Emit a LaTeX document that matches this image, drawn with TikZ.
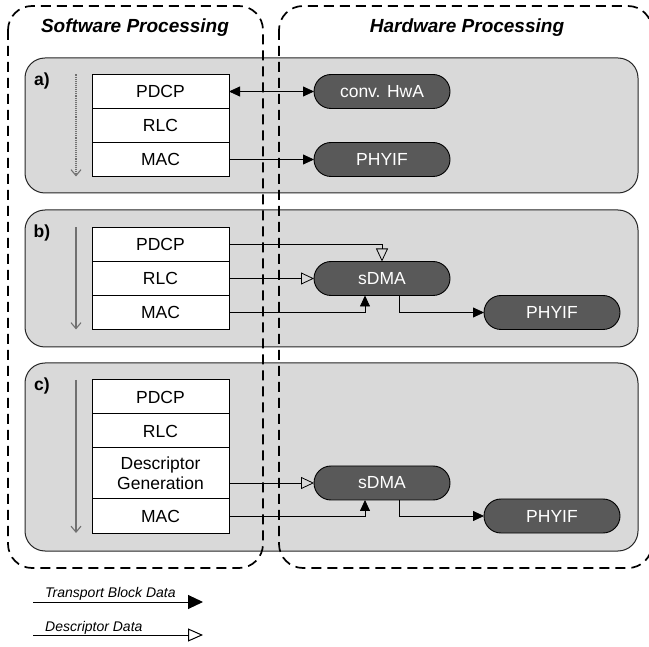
\documentclass[tikz,border=0pt]{standalone}
\usepackage{fontspec}
\setmainfont{Liberation Sans}
\usetikzlibrary{arrows.meta,positioning,shapes.misc}
\definecolor{panelgray}{HTML}{D9D9D9}
\definecolor{unitgray}{HTML}{595959}
\definecolor{flowgray}{HTML}{707070}
\tikzset{
 side frame/.style={draw,line width=1.7pt,dash pattern=on 10pt off 6pt,rounded corners=24pt},
 panel/.style={draw=black!85,fill=panelgray,line width=1pt,rounded corners=20pt},
 layer box/.style={draw,fill=white,line width=1pt,minimum width=137pt,minimum height=34pt,
                   inner sep=0pt,outer sep=0pt,align=center,font=\fontsize{17.5}{20}\selectfont},
 hw unit/.style={rounded rectangle,draw,fill=unitgray,text=white,line width=.9pt,
                 minimum width=136pt,minimum height=34pt,inner sep=0pt,outer sep=0pt,
                 font=\fontsize{17.5}{20}\selectfont},
 panel label/.style={font=\fontsize{17.5}{20}\selectfont\bfseries},
 frame title/.style={anchor=base,font=\fontsize{19}{22}\selectfont\bfseries\itshape},
 tb flow/.style={line width=.8pt,-{Triangle[length=11pt,width=10pt]}},
 tb both/.style={line width=.8pt,{Triangle[length=11pt,width=10pt]}-{Triangle[length=11pt,width=10pt]}},
 desc flow/.style={line width=.8pt,-{Triangle[open,length=13pt,width=12pt]}},
 stack dir/.style={flowgray,line width=1.1pt,-{Straight Barb[length=6pt,width=10pt]}},
 legend text/.style={anchor=base west,inner sep=0pt,font=\fontsize{14}{16}\selectfont\itshape},
}
\begin{document}
\begin{tikzpicture}[x=1pt,y=-1pt]
 \useasboundingbox (0,0) rectangle (649,647);
 % grey panels
 \draw[panel] (25,58) rectangle (638,193);
 \draw[panel] (25,210) rectangle (638,347);
 \draw[panel] (25,363) rectangle (638,551);
 % software / hardware frames
 \draw[side frame] (8,6) rectangle (263,568);
 \draw[side frame] (279,6) rectangle (652,568);
 \node[frame title] (swTitle) at (135,33) {Software Processing};
 \node[frame title] (hwTitle) at (467,33) {Hardware Processing};

 % a) conventional accelerator
 \node[panel label] (labA) at (42,81) {a)};
 \node[layer box] (pdcpA) at (160.5,91.5) {PDCP};
 \node[layer box,below=0pt of pdcpA] (rlcA) {RLC};
 \node[layer box,below=0pt of rlcA] (macA) {MAC};
 \node[hw unit,right=85pt of pdcpA] (hwaA) {conv. HwA};
 \node[hw unit,right=85pt of macA] (phyA) {PHYIF};
 \draw[stack dir,densely dotted] ([xshift=-16pt]pdcpA.north west) -- ([xshift=-16pt]macA.south west);
 \draw[tb both] (pdcpA.east) -- (hwaA.west);
 \draw[tb flow] (macA.east) -- (phyA.west);

 % b) sDMA
 \node[panel label] (labB) at (42,233) {b)};
 \node[layer box] (pdcpB) at (160.5,244.5) {PDCP};
 \node[layer box,below=0pt of pdcpB] (rlcB) {RLC};
 \node[layer box,below=0pt of rlcB] (macB) {MAC};
 \node[hw unit,right=85pt of rlcB] (sdmaB) {sDMA};
 \node[hw unit,right=255pt of macB] (phyB) {PHYIF};
 \draw[stack dir] ([xshift=-16pt]pdcpB.north west) -- ([xshift=-16pt]macB.south west);
 \draw[desc flow] (pdcpB.east) -| (sdmaB.north);
 \draw[desc flow] (rlcB.east) -- (sdmaB.west);
 \draw[tb flow] (macB.east) -| ([xshift=-17pt]sdmaB.south);
 \draw[tb flow] ([xshift=17pt]sdmaB.south) |- (phyB.west);

 % c) sDMA with descriptor generation
 \node[panel label] (labC) at (42,386) {c)};
 \node[layer box] (pdcpC) at (160.5,397) {PDCP};
 \node[layer box,below=0pt of pdcpC] (rlcC) {RLC};
 \node[layer box,below=0pt of rlcC,minimum height=51pt] (descC) {Descriptor\\Generation};
 \node[layer box,below=0pt of descC] (macC) {MAC};
 \node[hw unit] (sdmaC) at (382,483) {sDMA};
 \node[hw unit,right=255pt of macC] (phyC) {PHYIF};
 \draw[stack dir] ([xshift=-16pt]pdcpC.north west) -- ([xshift=-16pt]macC.south west);
 \draw[desc flow] (descC.east |- sdmaC.west) -- (sdmaC.west);
 \draw[tb flow] (macC.east) -| ([xshift=-17pt]sdmaC.south);
 \draw[tb flow] ([xshift=17pt]sdmaC.south) |- (phyC.west);

 % legend
 \coordinate (tbFrom) at (33,602);
 \coordinate (tbTo) at (203,602);
 \coordinate (descFrom) at (33,635);
 \coordinate (descTo) at (203,635);
 \node[legend text] (tbText) at (45,597) {Transport Block Data};
 \node[legend text] (descText) at (45,631) {Descriptor Data};
 \draw[line width=1pt,-{Triangle[length=15pt,width=14pt]}] (tbFrom) -- (tbTo);
 \draw[line width=1pt,-{Triangle[open,length=15pt,width=13pt]}] (descFrom) -- (descTo);
\end{tikzpicture}
\end{document}
